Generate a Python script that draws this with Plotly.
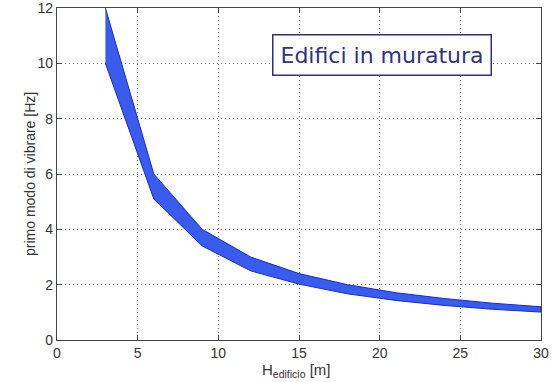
import plotly.graph_objects as go

# Fundamental frequency range for masonry buildings vs. building height
altezza = [3, 6, 9, 12, 15, 18, 21, 24, 27, 30]
freq_sup = [12.0, 6.0, 4.0, 3.0, 2.4, 2.0, 1.71, 1.5, 1.33, 1.2]
freq_inf = [10.0, 5.1, 3.4, 2.5, 2.02, 1.67, 1.43, 1.25, 1.11, 1.01]

x_ticks = [0, 5, 10, 15, 20, 25, 30]
y_ticks = [0, 2, 4, 6, 8, 10, 12]

fig = go.Figure()
fig.add_trace(go.Scatter(
    x=altezza + altezza[::-1],
    y=freq_sup + freq_inf[::-1],
    fill="toself",
    fillcolor="rgb(58,92,238)",
    line=dict(color="rgb(20,40,220)", width=1),
    mode="lines",
    hoverinfo="skip",
    showlegend=False,
))

axis_common = dict(
    showgrid=True,
    gridcolor="rgba(70,70,70,0.8)",
    griddash="1px,3px",
    gridwidth=1,
    zeroline=False,
    showline=True,
    linecolor="#444",
    linewidth=1.3,
    mirror="ticks",
    ticks="inside",
    ticklen=5,
    tickcolor="#444",
    automargin=False,
    ticklabeloverflow="allow",
    tickfont=dict(family="Liberation Sans, Arial", size=14, color="#333"),
)

fig.update_xaxes(range=[0, 30], tickvals=x_ticks, **axis_common)
fig.update_yaxes(range=[0, 12], tickvals=y_ticks, **axis_common)

# plot area in pixels: left 57, right 541, top 8, bottom 340
L, R, T, B = 57, 541, 8, 340
W, H = R - L, B - T

fig.add_annotation(
    text="Edifici in muratura",
    xref="paper", yref="paper",
    x=(382 - L) / W, y=(B - 55) / H,
    xanchor="center", yanchor="middle",
    showarrow=False,
    font=dict(family="DejaVu Sans", size=22, color="#2e3580"),
    bgcolor="white",
    bordercolor="#2a2f8a",
    borderwidth=1.5,
    borderpad=7,
)

fig.add_annotation(
    text="primo modo di vibrare [Hz]",
    xref="paper", yref="paper",
    x=(20 - L) / W, y=(B - 174) / H,
    textangle=-90,
    showarrow=False,
    font=dict(family="Liberation Sans, Arial", size=14, color="#333"),
)

fig.add_annotation(
    text="H<sub>edificio</sub> [m]",
    xref="paper", yref="paper",
    x=(296 - L) / W, y=-(370 - B) / H,
    xanchor="center", yanchor="middle",
    showarrow=False,
    font=dict(family="Liberation Sans, Arial", size=15, color="#333"),
)

fig.update_layout(
    width=552, height=382,
    margin=dict(l=L, r=552 - R, t=T, b=382 - B, pad=0, autoexpand=False),
    plot_bgcolor="white",
    paper_bgcolor="white",
)

fig.write_html("out.html")
